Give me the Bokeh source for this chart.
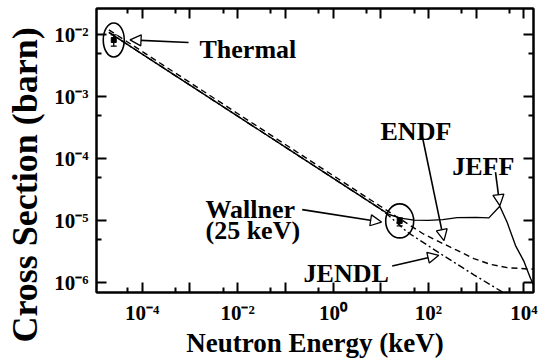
from bokeh.plotting import figure
from bokeh.models import (LogAxis, FixedTicker, Label, Arrow, NormalHead, Whisker,
                          TeeHead, ColumnDataSource, Range1d, Title)
from bokeh.embed import file_html
from bokeh.resources import INLINE

FONT = "'Liberation Serif', 'Times New Roman', serif"

# ---------------- data (neutron energy in keV, cross section in barn) ----------------
jeff_E = [2e-5, 1e-4, 1e-3, 1e-2, 1e-1, 1, 10, 15, 26, 50, 100, 200, 400, 1000, 1850,
          3140, 4490, 6700, 1e4, 1.18e4, 1.38e4, 1.62e4]
jeff_sigma = [1.10e-2, 4.9e-3, 1.55e-3, 4.9e-4, 1.55e-4, 4.9e-5, 1.55e-5, 1.27e-5, 1.11e-5,
              1.03e-5, 1.02e-5, 1.05e-5, 1.13e-5, 1.14e-5, 1.12e-5, 1.72e-5, 9.4e-6, 4.0e-6,
              2.25e-6, 1.62e-6, 1.19e-6, 9.1e-7]

endf_E = [2e-5, 1e-4, 1e-3, 1e-2, 1e-1, 1, 10, 80, 179, 402, 896, 2000, 4490, 1.18e4, 1.62e4]
endf_sigma = [1.21e-2, 5.4e-3, 1.71e-3, 5.4e-4, 1.71e-4, 5.4e-5, 1.71e-5, 6.1e-6, 4.5e-6,
              3.34e-6, 2.47e-6, 1.99e-6, 1.76e-6, 1.68e-6, 1.67e-6]

jendl_E = [2e-5, 1e-4, 1e-3, 1e-2, 1e-1, 1, 10, 15, 36, 179, 896, 3810, 5000]
jendl_sigma = [1.10e-2, 4.9e-3, 1.55e-3, 4.9e-4, 1.55e-4, 4.9e-5, 1.55e-5, 1.2e-5, 6.6e-6,
               2.96e-6, 1.35e-6, 6.9e-7, 6.0e-7]

# measured points: thermal and Wallner (25 keV)
meas_E = [2.53e-5, 25]
meas_sigma = [8.3e-3, 1.0e-5]
meas_lo = [6.6e-3, 8.3e-6]
meas_hi = [1.0e-2, 1.12e-5]

# ticks
x_ticks = [1e-4, 1e-3, 1e-2, 1e-1, 1, 10, 100, 1e3, 1e4]
x_tick_labels = ["10\u207b\u2074", "", "10\u207b\u00b2", "", "10\u2070", "", "10\u00b2", "", "10\u2074"]
x_minor = [5e-5, 5e-4, 5e-3, 5e-2, 0.5, 5, 50, 500, 5000]
y_ticks = [1e-6, 1e-5, 1e-4, 1e-3, 1e-2]
y_tick_labels = ["10\u207b\u2076", "10\u207b\u2075", "10\u207b\u2074", "10\u207b\u00b3", "10\u207b\u00b2"]
y_minor = [5e-6, 5e-5, 5e-4, 5e-3]

# annotation texts and anchor positions (keV, barn)
ann_text = ["Thermal", "ENDF", "JEFF", "Wallner", "(25 keV)", "JENDL"]
ann_E = [1.59e-3, 9.9, 315, 2.12e-3, 2.12e-3, 0.241]
ann_sigma = [5.80e-3, 2.80e-4, 7.64e-5, 1.54e-5, 6.92e-6, 1.40e-6]

arrow_start_E = [9.35e-4, 0.226, 17.4, 74.1, 2550]
arrow_start_sigma = [7.55e-3, 1.52e-5, 1.87e-6, 2.34e-4, 6.14e-5]
arrow_end_E = [5.55e-5, 10.4, 165, 212, 3140]
arrow_end_sigma = [8.34e-3, 9.6e-6, 2.79e-6, 4.81e-6, 1.76e-5]

x_title = "Neutron Energy (keV)"
y_title = "Cross Section (barn)"

# ---------------- figure ----------------
p = figure(width=544, height=360, x_axis_type="log", y_axis_type="log",
           x_range=Range1d(1.10e-5, 1.596e4), y_range=Range1d(7.0e-7, 2.67e-2),
           output_backend="svg", toolbar_location=None,
           min_border_left=96, min_border_right=11, min_border_top=8, min_border_bottom=62)
p.background_fill_color = "white"
p.border_fill_color = "white"
p.outline_line_color = "black"
p.outline_line_width = 2
p.xgrid.visible = False
p.ygrid.visible = False

bottom_ax = p.below[0]
left_ax = p.left[0]


def style_axis(ax, ticks, minor, labels, show):
    ax.ticker = FixedTicker(ticks=ticks, minor_ticks=minor)
    ax.major_tick_in = 10
    ax.major_tick_out = 0
    ax.minor_tick_in = 5
    ax.minor_tick_out = 0
    ax.major_tick_line_width = 2
    ax.minor_tick_line_width = 2
    ax.axis_line_width = 2
    ax.major_label_overrides = {t: (l if show else "") for t, l in zip(ticks, labels)}
    ax.major_label_text_font = FONT
    ax.major_label_text_font_style = "bold"
    ax.major_label_text_color = "black"
    ax.major_label_text_font_size = "21px" if show else "0px"
    ax.major_label_standoff = 8 if show else 0


style_axis(bottom_ax, x_ticks, x_minor, x_tick_labels, True)
style_axis(left_ax, y_ticks, y_minor, y_tick_labels, True)
top_ax = LogAxis()
right_ax = LogAxis()
style_axis(top_ax, x_ticks, x_minor, x_tick_labels, False)
style_axis(right_ax, y_ticks, y_minor, y_tick_labels, False)
p.add_layout(top_ax, "above")
p.add_layout(right_ax, "right")

# x axis title
bottom_ax.axis_label = x_title
bottom_ax.axis_label_standoff = 0
bottom_ax.axis_label_text_font = FONT
bottom_ax.axis_label_text_font_style = "bold"
bottom_ax.axis_label_text_font_size = "27px"
bottom_ax.axis_label_text_color = "black"

# blank spacer label on the y axis so the title sits further left
left_ax.axis_label = " "
left_ax.axis_label_standoff = 3
left_ax.axis_label_text_font_size = "1px"

# y axis title as a left-side title shifted downward like the reference
p.add_layout(Title(text=y_title, align="left", offset=-50, standoff=0,
                   vertical_align="bottom", text_font=FONT, text_font_style="bold",
                   text_font_size="36px", text_color="black"), "left")

# ---------------- curves ----------------
p.line(jeff_E, jeff_sigma, line_color="black", line_width=1.4)
p.line(endf_E, endf_sigma, line_color="black", line_width=1.4, line_dash="6 4")
p.line(jendl_E, jendl_sigma, line_color="black", line_width=1.4, line_dash="7 3 2 3")

# measured points with error bars and circles
msrc = ColumnDataSource(dict(E=meas_E, s=meas_sigma, lo=meas_lo, hi=meas_hi))
p.add_layout(Whisker(source=msrc, base="E", upper="hi", lower="lo", dimension="height",
                     line_width=1.3, line_color="black",
                     upper_head=TeeHead(size=6, line_width=1.3),
                     lower_head=TeeHead(size=6, line_width=1.3)))
p.scatter("E", "s", source=msrc, marker="square", size=5, fill_color="black", line_color="black")
p.ellipse(x=meas_E, y=meas_sigma, width=[21, 28], height=[34, 34],
          width_units="screen", height_units="screen",
          fill_color=None, line_color="black", line_width=1.6)

# arrows
for xs, ys, xe, ye in zip(arrow_start_E, arrow_start_sigma, arrow_end_E, arrow_end_sigma):
    p.add_layout(Arrow(x_start=xs, y_start=ys, x_end=xe, y_end=ye, line_width=1.6,
                       line_color="black",
                       end=NormalHead(size=11, fill_color="white", line_color="black",
                                      line_width=1.3)))

# annotation texts
for t, xe, ye in zip(ann_text, ann_E, ann_sigma):
    p.add_layout(Label(x=xe, y=ye, text=t, text_font=FONT, text_font_style="bold",
                       text_font_size="26px", text_color="black",
                       text_align="left", text_baseline="alphabetic"))

open("out.html", "w").write(file_html(p, INLINE))
